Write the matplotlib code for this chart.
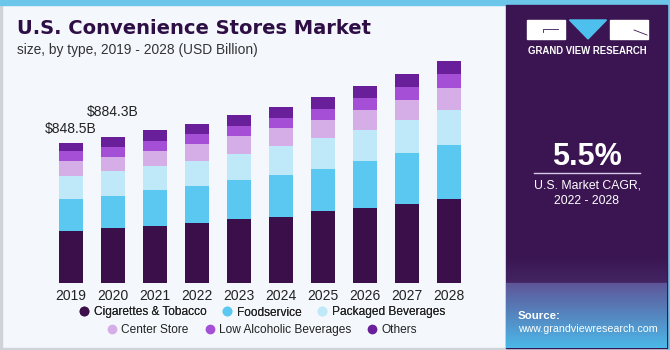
import matplotlib
matplotlib.use("Agg")
import matplotlib.pyplot as plt
import numpy as np
from matplotlib.patches import Rectangle, Polygon
from matplotlib.lines import Line2D

# ---------------- data ----------------
years = ["2019", "2020", "2021", "2022", "2023", "2024", "2025", "2026", "2027", "2028"]
segments = ["Cigarettes & Tobacco", "Foodservice", "Packaged Beverages",
            "Center Store", "Low Alcoholic Beverages", "Others"]
cigarettes = [312.5, 331.0, 342.5, 364.0, 387.0, 402.0, 435.0, 455.0, 479.0, 509.0]
foodservice = [197.0, 197.0, 219.0, 225.0, 234.0, 250.0, 254.0, 284.0, 310.0, 326.0]
packaged = [137.5, 148.0, 147.0, 147.0, 157.0, 179.0, 189.0, 187.0, 198.0, 213.0]
center_store = [91.0, 89.0, 89.0, 103.0, 110.0, 107.0, 109.0, 121.0, 121.0, 133.0]
low_alcohol = [60.5, 56.0, 60.0, 60.0, 60.0, 60.0, 68.0, 71.0, 79.0, 83.0]
others = [50.0, 63.3, 68.0, 65.0, 66.0, 66.0, 69.0, 76.0, 77.0, 77.0]
labels_idx = [0, 1]
label_text = ["$848.5B", "$884.3B"]
cagr_text = "5.5%"

colors = ["#3a0f4a", "#5bc8f2", "#bfe8f8", "#d5aee8", "#a54fd6", "#6a1f9a"]
series = [cigarettes, foodservice, packaged, center_store, low_alcohol, others]

W, H = 670, 350
plt.rcParams['font.family'] = ['Liberation Sans', 'DejaVu Sans']
fig = plt.figure(figsize=(W / 100, H / 100), dpi=100)
fig.patch.set_facecolor("white")

# background decoration axes in pixel coordinates
bg = fig.add_axes([0, 0, 1, 1])
bg.set_xlim(0, W)
bg.set_ylim(H, 0)
bg.axis("off")
bg.add_patch(Rectangle((0, 0), W, H, color="#f4f7fc", zorder=0))
bg.add_patch(Rectangle((0, 0), 1.5, H, color="#d0d3d8", zorder=1))
bg.add_patch(Rectangle((0, 347.5), W, 2.5, color="#d0d3d8", zorder=1))
bg.add_patch(Rectangle((0, 0), W, 5, color="#6cc6ea", zorder=2))
bg.add_patch(Rectangle((667, 0), 3, H, color="#6cc6ea", zorder=2))
# right panel
bg.add_patch(Rectangle((506, 5), 161, 343, color="#3a1551", zorder=2))
# gradient at bottom of panel
grad = np.linspace(0, 1, 100)
c0 = np.array([0x3a, 0x15, 0x51]) / 255
c1 = np.array([0x5e, 0x55, 0x98]) / 255
c2 = np.array([0x4c, 0xb8, 0xe8]) / 255
img = np.zeros((100, 1, 3))
for i, g in enumerate(grad):
    if g < 0.3:
        t = g / 0.3
        img[i, 0] = c0 * (1 - t) + (c0 * 0.75 + c1 * 0.25) * t
    else:
        t = (g - 0.3) / 0.7
        img[i, 0] = c1 * (1 - t) + c2 * t
bg.imshow(img, extent=(506, 667, 348, 255), aspect="auto", zorder=3, interpolation="bilinear")
bg.set_xlim(0, W)
bg.set_ylim(H, 0)

# logo
bg.add_patch(Rectangle((527, 20), 38, 19, color="white", zorder=4))
bg.add_patch(Polygon([(569.5, 20), (606.5, 20), (588, 39)], closed=True, color="#4ec0ee", zorder=4))
bg.add_patch(Rectangle((610, 20), 37.5, 19, color="white", zorder=4))
bg.plot([543, 543, 558], [32, 29, 29], color="#3a1551", lw=0.6, zorder=5)
bg.plot([634, 647], [30, 35], color="#3a1551", lw=0.6, zorder=5)
bg.text(587, 51, "GRAND VIEW RESEARCH", color="white", fontsize=6.9, fontweight="bold",
        ha="center", va="center", zorder=5)
bg.text(587, 157, cagr_text, color="white", fontsize=22, fontweight="bold",
        ha="center", va="center", zorder=5)
bg.plot([534, 640], [173, 173], color="#d9c8e6", lw=1.0, zorder=5)
bg.text(587, 186, "U.S. Market CAGR,", color="white", fontsize=8.8, ha="center", va="center", zorder=5)
bg.text(587, 201, "2022 - 2028", color="white", fontsize=8.8, ha="center", va="center", zorder=5)
bg.text(518, 316, "Source:", color="white", fontsize=8.2, fontweight="bold", ha="left", va="center", zorder=5)
bg.text(518, 329, "www.grandviewresearch.com", color="white", fontsize=7.7, ha="left", va="center", zorder=5)

# titles
bg.text(17, 29, "U.S. Convenience Stores Market", color="#2e0f45", fontsize=14,
        fontweight="bold", family="DejaVu Sans", ha="left", va="center", zorder=5)
bg.text(17, 50, "size, by type, 2019 - 2028 (USD Billion)", color="#333333", fontsize=9.9,
        ha="left", va="center", zorder=5)

# ---------------- bar chart ----------------
ax_left, ax_right, ax_top, ax_bottom = 49.7, 469.7, 55, 283
ax = fig.add_axes([ax_left / W, (H - ax_bottom) / H, (ax_right - ax_left) / W, (ax_bottom - ax_top) / H])
ax.patch.set_alpha(0)
x = np.arange(len(years))
bottom = np.zeros(len(years))
for vals, col, name in zip(series, colors, segments):
    ax.bar(x, vals, width=0.571, bottom=bottom, color=col, label=name, edgecolor="none")
    bottom += np.array(vals)
ax.set_xlim(-0.5, len(years) - 0.5)
ax.set_ylim(0, 228 * 6.05)
ax.set_xticks(x)
ax.set_xticklabels(years, fontsize=10, color="#222222")
ax.tick_params(axis="x", length=0, pad=4)
ax.set_yticks([])
for s in ax.spines.values():
    s.set_visible(False)

offsets = [14, 25]
for i, t, off in zip(labels_idx, label_text, offsets):
    ax.annotate(t, (x[i], bottom[i]), xytext=(0, off * 0.72), textcoords="offset points",
                ha="center", va="center", fontsize=10, color="#222222")

# legends (two centred rows)
handles = [Line2D([0], [0], marker="o", linestyle="none", markersize=6,
                  markerfacecolor=c, markeredgecolor=c) for c in colors]
common = dict(loc="center", ncol=3, frameon=False, fontsize=8.6, handletextpad=0.35,
              columnspacing=1.3, handlelength=0.9, borderpad=0, borderaxespad=0)
leg1 = fig.legend(handles[:3], segments[:3], bbox_to_anchor=(262 / W, (H - 312.5) / H), **common)
leg2 = fig.legend(handles[3:], segments[3:], bbox_to_anchor=(262 / W, (H - 330) / H), **common)
for leg in (leg1, leg2):
    for t in leg.get_texts():
        t.set_color("#222222")
fig.add_artist(leg1)

fig.savefig("out.png", dpi=100, facecolor=fig.get_facecolor())
